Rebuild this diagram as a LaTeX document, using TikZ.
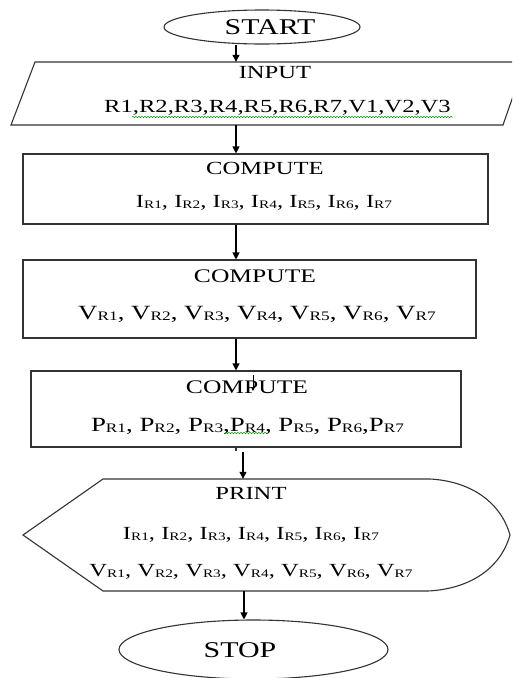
\documentclass[tikz,border=0pt]{standalone}
\usepackage{fontspec}
\setmainfont[FakeStretch=1.33]{Liberation Serif}
\usetikzlibrary{shapes.geometric,arrows.meta,decorations.pathmorphing}
\newcommand\sbs[1]{\raisebox{-1pt}{\fontsize{11.5}{11.5}\selectfont #1}}
\newcommand\sbl[1]{\raisebox{-1pt}{\fontsize{13}{13}\selectfont #1}}
\begin{document}
\begin{tikzpicture}[x=1pt,y=-1pt,
  shp/.style={draw=black!80,line width=1.1pt},
  arr/.style={draw=black,line width=1.1pt,-{Triangle[width=7pt,length=7pt]}},
  ghost/.style={draw=none,inner sep=0pt},
  lbl/.style={inner sep=0pt,font=\fontsize{18.5}{20}\selectfont},
  lblm/.style={inner sep=0pt,font=\fontsize{19.2}{21}\selectfont},
  lbll/.style={inner sep=0pt,font=\fontsize{20.2}{22}\selectfont},
  big/.style={inner sep=0pt,font=\fontsize{22.5}{24}\selectfont},
  squig/.style={draw=green!60!black,line width=0.5pt,decorate,decoration={snake,amplitude=0.7pt,segment length=3pt}}
]
\useasboundingbox (0,0) rectangle (512,678);
\clip (0,0) rectangle (512,678);

% x positions of connectors
\coordinate (xa) at (236,0);
\coordinate (xb) at (243,0);
\coordinate (xc) at (244,0);

% START
\node[shp,ellipse,minimum width=196pt,minimum height=34pt,inner sep=0pt] (start) at (262,27) {};
\node[big] (startt) at (270,27) {START};

% INPUT parallelogram
\draw[shp] (35,62) -- (525,62) -- (503,125) -- (11,125) -- cycle;
\node[ghost,minimum width=492pt,minimum height=63pt] (in) at (268,93.5) {};
\node[lbl] (int) at (275,73) {INPUT};
\node[lbl] (inv) at (277.5,108) {R1,R2,R3,R4,R5,R6,R7,V1,V2,V3};
\coordinate (sq1a) at (132,117);
\coordinate (sq1b) at (453,117);
\draw[squig] (sq1a) -- (sq1b);

% COMPUTE 1
\node[shp,rectangle,minimum width=465pt,minimum height=70pt,inner sep=0pt] (c1) at (255.5,189) {};
\node[lbl] (c1t) at (265,168) {COMPUTE};
\node[lbl] (c1v) at (264,203) {I\sbs{R1}, I\sbs{R2}, I\sbs{R3}, I\sbs{R4}, I\sbs{R5}, I\sbs{R6}, I\sbs{R7}};

% COMPUTE 2
\node[shp,rectangle,minimum width=453pt,minimum height=78pt,inner sep=0pt] (c2) at (249.5,299) {};
\node[lblm] (c2t) at (255,276) {COMPUTE};
\node[lbll] (c2v) at (257,314) {V\sbl{R1}, V\sbl{R2}, V\sbl{R3}, V\sbl{R4}, V\sbl{R5}, V\sbl{R6}, V\sbl{R7}};

% COMPUTE 3
\node[shp,rectangle,minimum width=430pt,minimum height=76pt,inner sep=0pt] (c3) at (246,409) {};
\node[lblm] (c3t) at (247,387) {COMPUTE};
\node[lbll] (c3v) at (247.5,426) {P\sbl{R1}, P\sbl{R2}, P\sbl{R3},P\sbl{R4}, P\sbl{R5}, P\sbl{R6},P\sbl{R7}};
\coordinate (sq2a) at (225,433);
\coordinate (sq2b) at (267,433);
\draw[squig] (sq2a) -- (sq2b);
\coordinate (stA) at (253,375);
\coordinate (stB) at (253,391);
\draw[line width=0.8pt,-{Triangle[width=4pt,length=4pt]}] (stA) -- (stB);

% PRINT display shape
\draw[shp] (103,479) -- (430,479) .. controls (468,481) and (500,500) .. (510,535)
  .. controls (500,570) and (468,589) .. (428,591) -- (103,591) -- (23,535) -- cycle;
\node[ghost,minimum width=487pt,minimum height=112pt] (prt) at (266.5,535) {};
\node[lbl] (prtt) at (251,493) {PRINT};
\node[lbl] (prti) at (251,535) {I\sbs{R1}, I\sbs{R2}, I\sbs{R3}, I\sbs{R4}, I\sbs{R5}, I\sbs{R6}, I\sbs{R7}};
\node[lbl] (prtv) at (251,572) {V\sbs{R1}, V\sbs{R2}, V\sbs{R3}, V\sbs{R4}, V\sbs{R5}, V\sbs{R6}, V\sbs{R7}};

% STOP
\node[shp,ellipse,minimum width=269pt,minimum height=59pt,inner sep=0pt] (stop) at (253.5,649.5) {};
\node[big] (stopt) at (240,650) {STOP};

% connectors
\draw[arr] (start.south -| xa) -- (in.north -| xa);
\draw[arr] (in.south -| xa) -- (c1.north -| xa);
\draw[arr] (c1.south -| xa) -- (c2.north -| xa);
\draw[arr] (c2.south -| xa) -- (c3.north -| xa);
\coordinate (tk) at (236,451);
\draw[shp] (c3.south -| xa) -- (tk);
\coordinate (a5) at (243,452);
\draw[arr] (a5) -- (prt.north -| xb);
\draw[arr] (prt.south -| xc) -- (stop.north -| xc);
\end{tikzpicture}
\end{document}
